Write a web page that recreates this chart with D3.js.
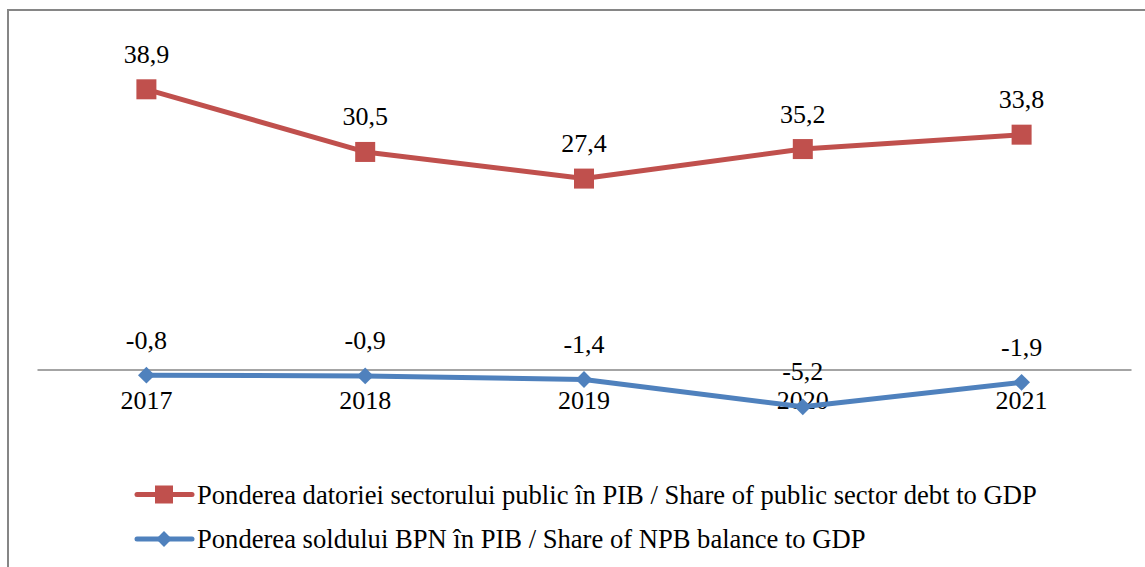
<!DOCTYPE html>
<html>
<head>
<meta charset="utf-8">
<script src="https://cdn.jsdelivr.net/npm/d3@7"></script>
</head>
<body style="margin:0; background:#fff">
<div id="chart"></div>
<script>
// years on the category axis
let years = ["2017", "2018", "2019", "2020", "2021"];
// positions of the markers as drawn (the printed labels are below)
let debtValues = [38.9, 30.2, 26.5, 30.6, 32.6];
let balanceValues = [-0.8, -0.9, -1.4, -5.2, -1.8];
// data labels as printed on the chart
let debtLabels = ["38,9", "30,5", "27,4", "35,2", "33,8"];
let balanceLabels = ["-0,8", "-0,9", "-1,4", "-5,2", "-1,9"];
let seriesNames = [
  "Ponderea datoriei sectorului public în PIB / Share of public sector debt to GDP",
  "Ponderea soldului BPN în PIB / Share of NPB balance to GDP"
];

let W = 1145, H = 567;
let red = "#C0504D", blue = "#4F81BD", grey = "#868686";
let serif = "'Liberation Serif', 'Times New Roman', serif";

let svg = d3.select("#chart").append("svg")
  .attr("width", W)
  .attr("height", H);

// chart area border (runs off the right and bottom like the original)
svg.append("rect")
  .attr("x", 8).attr("y", 10)
  .attr("width", W + 20).attr("height", H + 20)
  .attr("fill", "none")
  .attr("stroke", grey)
  .attr("stroke-width", 2);

let x = d3.scaleBand()
  .domain(years)
  .range([37, 1131]);

let y = d3.scaleLinear()
  .domain([0, 38.9])
  .range([369.4, 89.3]);

let cx = function(d, i) { return x(years[i]) + x.bandwidth() / 2; };

// category axis at zero
let xAxis = d3.axisBottom(x).tickSize(0).tickPadding(0);
let axisG = svg.append("g")
  .attr("transform", "translate(0," + y(0) + ")")
  .call(xAxis);
axisG.select(".domain")
  .attr("stroke", grey)
  .attr("stroke-width", 1.5);
axisG.selectAll("text")
  .attr("dy", null)
  .attr("y", 40)
  .attr("fill", "#000")
  .style("font-size", "26px")
  .style("font-family", serif);

let line = d3.line()
  .x(cx)
  .y(function(d) { return y(d); });

// debt series
svg.append("path")
  .datum(debtValues)
  .attr("fill", "none")
  .attr("stroke", red)
  .attr("stroke-width", 5)
  .attr("stroke-linejoin", "round")
  .attr("d", line);

svg.selectAll(".sq")
  .data(debtValues)
  .enter()
  .append("rect")
  .attr("class", "sq")
  .attr("x", function(d, i) { return cx(d, i) - 10; })
  .attr("y", function(d) { return y(d) - 10; })
  .attr("width", 20)
  .attr("height", 20)
  .attr("fill", red);

// balance series
svg.append("path")
  .datum(balanceValues)
  .attr("fill", "none")
  .attr("stroke", blue)
  .attr("stroke-width", 5)
  .attr("stroke-linejoin", "round")
  .attr("d", line);

let diamond = d3.symbol().type(d3.symbolDiamond2).size(180);
svg.selectAll(".dm")
  .data(balanceValues)
  .enter()
  .append("path")
  .attr("class", "dm")
  .attr("transform", function(d, i) { return "translate(" + cx(d, i) + "," + y(d) + ")"; })
  .attr("d", diamond)
  .attr("fill", blue);

// data labels
svg.selectAll(".dl1")
  .data(debtValues)
  .enter()
  .append("text")
  .attr("x", cx)
  .attr("y", function(d) { return y(d) - 26.5; })
  .attr("text-anchor", "middle")
  .style("font-family", serif)
  .style("font-size", "26px")
  .text(function(d, i) { return debtLabels[i]; });

svg.selectAll(".dl2")
  .data(balanceValues)
  .enter()
  .append("text")
  .attr("x", cx)
  .attr("y", function(d) { return y(d) - 26.5; })
  .attr("text-anchor", "middle")
  .style("font-family", serif)
  .style("font-size", "26px")
  .text(function(d, i) { return balanceLabels[i]; });

// legend
let legendRows = [
  { name: seriesNames[0], color: red, shape: "square", y: 494.5 },
  { name: seriesNames[1], color: blue, shape: "diamond", y: 539 }
];
let lg = svg.selectAll(".lg")
  .data(legendRows)
  .enter()
  .append("g")
  .attr("transform", function(d) { return "translate(137," + d.y + ")"; });

lg.append("line")
  .attr("x1", 0).attr("x2", 55)
  .attr("stroke", function(d) { return d.color; })
  .attr("stroke-width", 5)
  .attr("stroke-linecap", "round");

lg.filter(function(d) { return d.shape == "square"; })
  .append("rect")
  .attr("x", 18).attr("y", -9)
  .attr("width", 18).attr("height", 18)
  .attr("fill", red);

lg.filter(function(d) { return d.shape == "diamond"; })
  .append("path")
  .attr("transform", "translate(27,0)")
  .attr("d", d3.symbol().type(d3.symbolDiamond2).size(160))
  .attr("fill", blue);

lg.append("text")
  .attr("x", 60)
  .attr("y", 9)
  .style("font-family", serif)
  .style("font-size", "26.6px")
  .text(function(d) { return d.name; });
</script>
</body>
</html>
